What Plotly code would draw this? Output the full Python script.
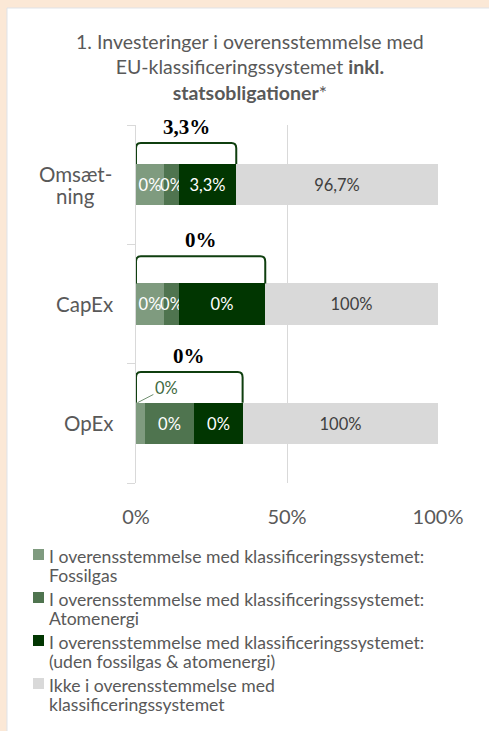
import plotly.graph_objects as go

# ---------------- data ----------------
categories = ["Omsæt-<br>ning", "CapEx", "OpEx"]
series_names = [
    "I overensstemmelse med klassificeringssystemet:<br>Fossilgas",
    "I overensstemmelse med klassificeringssystemet:<br>Atomenergi",
    "I overensstemmelse med klassificeringssystemet:<br>(uden fossilgas & atomenergi)",
    "Ikke i overensstemmelse med<br>klassificeringssystemet",
]
# drawn segment lengths (% of axis)
fossilgas = [9.4, 9.4, 3.0]
atomenergi = [4.9, 4.9, 16.3]
uden = [18.9, 28.5, 16.0]
ikke = [66.8, 57.2, 64.7]
# printed labels
fossilgas_lbl = ["0%", "0%", ""]
atomenergi_lbl = ["0%", "0%", "0%"]
uden_lbl = ["3,3%", "0%", "0%"]
ikke_lbl = ["96,7%", "100%", "100%"]
opex_fossil_outside_lbl = "0%"
bracket_lbl = ["3,3%", "0%", "0%"]
x_tickvals = [0, 50, 100]
x_ticktext = ["0%", "50%", "100%"]
title_text = ("1. Investeringer i overensstemmelse med<br>"
              "EU-klassificeringssystemet <b>inkl.</b><br><b>statsobligationer</b>*")

# ---------------- style ----------------
W, H = 489, 731
L, R, T, B = 136, 51, 125, 248
PW, PH = W - L - R, H - T - B
FONT = "Lato"
TXT = "#595959"
BEIGE = "#fbe8d6"
colors = ["#7f9b7f", "#4f744f", "#013601", "#d9d9d9"]
text_colors = ["white", "white", "white", "#404040"]
BAR_W = 0.345
BRACKET_RISE = [0.35, 0.40, 0.43]
BRACKET_COLOR = "#0f3f0f"

def pxx(px):
    return (px - L) / PW

def pxy(py):
    return (H - B - py) / PH

ypos = list(range(len(categories)))

fig = go.Figure()
for name, vals, lbls, col, tcol in zip(series_names,
                                       [fossilgas, atomenergi, uden, ikke],
                                       [fossilgas_lbl, atomenergi_lbl, uden_lbl, ikke_lbl],
                                       colors, text_colors):
    fig.add_trace(go.Bar(
        y=ypos, x=vals, orientation="h", name=name, width=BAR_W,
        marker=dict(color=col, line=dict(width=0)),
        text=lbls, textposition="inside", insidetextanchor="middle", textangle=0,
        constraintext="none",
        textfont=dict(family=FONT, size=16.5, color=tcol),
        cliponaxis=False, hoverinfo="skip", showlegend=False,
    ))

shapes = []
annotations = []

# white panel
shapes.append(dict(type="rect", xref="paper", yref="paper", layer="below",
                   x0=pxx(7), x1=pxx(W + 20), y0=pxy(H + 20), y1=pxy(8),
                   fillcolor="white", line=dict(color="#dfe3e8", width=1)))

# brackets over the taxonomy-aligned part
for i in ypos:
    x0 = 0.0
    x1 = fossilgas[i] + atomenergi[i] + uden[i]
    yb = i - BAR_W / 2
    yt = i - BRACKET_RISE[i]
    rx, ry = 1.6, 0.045
    path = (f"M {x0},{yb} L {x0},{yt + ry} Q {x0},{yt} {x0 + rx},{yt} "
            f"L {x1 - rx},{yt} Q {x1},{yt} {x1},{yt + ry} L {x1},{yb}")
    shapes.append(dict(type="path", xref="x", yref="y", path=path,
                       line=dict(color=BRACKET_COLOR, width=2)))
    annotations.append(dict(x=(x0 + x1) / 2, y=yt, xref="x", yref="y",
                            text=f"<b>{bracket_lbl[i]}</b>", showarrow=False,
                            yanchor="middle", yshift=16,
                            font=dict(family="Liberation Serif", size=21, color="black")))

# OpEx fossil label outside with leader line
oi = 2
annotations.append(dict(x=fossilgas[oi] * 0.15, y=oi - BAR_W / 2, xref="x", yref="y",
                        text=opex_fossil_outside_lbl, showarrow=True, arrowhead=0,
                        arrowwidth=1, arrowcolor="#6f8f6f", ax=29, ay=-15,
                        font=dict(family=FONT, size=16.5, color="#3f6a3f")))

# category labels (one annotation per line for tight line spacing)
for i, c in enumerate(categories):
    lines = c.split("<br>")
    n = len(lines)
    for k, line in enumerate(lines):
        shift = (n - 1) * 11 - 22 * k
        if n > 1:
            annotations.append(dict(x=pxx(75), y=i, xref="paper", yref="y", text=line,
                                    showarrow=False, xanchor="center", yanchor="middle",
                                    yshift=shift,
                                    font=dict(family=FONT, size=20.5, color=TXT)))
        else:
            annotations.append(dict(x=pxx(115), y=i, xref="paper", yref="y", text=line,
                                    showarrow=False, xanchor="right", yanchor="middle",
                                    font=dict(family=FONT, size=20.5, color=TXT)))

# title
annotations.append(dict(x=pxx(250), y=pxy(28), xref="paper", yref="paper",
                        text=title_text, showarrow=False, xanchor="center",
                        yanchor="top", align="center",
                        font=dict(family=FONT, size=19.5, color=TXT)))

# legend (drawn manually)
leg_top = [549, 592, 635, 678]
for name, col, yt in zip(series_names, colors, leg_top):
    shapes.append(dict(type="rect", xref="paper", yref="paper",
                       x0=pxx(33), x1=pxx(44), y0=pxy(yt + 11), y1=pxy(yt),
                       fillcolor=col, line=dict(width=0)))
    for k, line in enumerate(name.split("<br>")):
        annotations.append(dict(x=pxx(47), y=pxy(yt + 7 + 19.5 * k), xref="paper",
                                yref="paper", text=line, showarrow=False,
                                xanchor="left", yanchor="middle",
                                font=dict(family=FONT, size=17.6, color=TXT)))

fig.update_layout(
    width=W, height=H, margin=dict(l=L, r=R, t=T, b=B),
    paper_bgcolor=BEIGE, plot_bgcolor="white",
    barmode="stack", bargap=0,
    shapes=shapes, annotations=annotations, showlegend=False,
    xaxis=dict(range=[0, 100], tickvals=x_tickvals, ticktext=x_ticktext,
               showgrid=True, gridcolor="#d9d9d9", gridwidth=1, zeroline=False,
               showline=False, ticks="outside", ticklen=16,
               tickcolor="rgba(0,0,0,0)",
               tickfont=dict(family=FONT, size=20, color=TXT), fixedrange=True),
    yaxis=dict(range=[2.5, -0.5], tickvals=[-0.5, 0.5, 1.5, 2.5],
               showticklabels=False, ticks="outside", ticklen=8,
               tickcolor="#d9d9d9", showgrid=False, zeroline=False,
               showline=True, linecolor="#d9d9d9", fixedrange=True),
)

fig.write_html("out.html", config={"displayModeBar": False},
               post_script="document.body.style.margin='0';"
                           "document.body.style.background='" + BEIGE + "';")
